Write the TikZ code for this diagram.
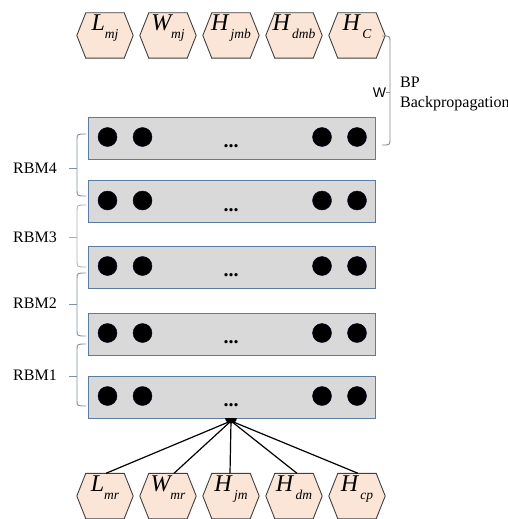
\documentclass[tikz,border=0pt]{standalone}
\usepackage{fontspec}
\setmainfont{Liberation Serif}
\newfontfamily\labelsans{Liberation Sans}
\usetikzlibrary{backgrounds,calc}

\definecolor{hexfill}{HTML}{FBE5D6}
\definecolor{hexedge}{HTML}{404040}
\definecolor{layerfill}{HTML}{D9D9D9}
\definecolor{layeredge}{HTML}{5B7BA5}
\definecolor{bracecol}{HTML}{7F8FA6}
\definecolor{bracelight}{HTML}{B0B0B0}
\definecolor{bracegray}{HTML}{8C8C8C}

% italic variable with a lowered subscript
\newcommand\hexlab[2]{{\fontsize{24pt}{24pt}\selectfont\itshape #1}{\fontsize{13.5pt}{13.5pt}\selectfont\itshape\raisebox{-8pt}{#2}}}

% hexagonal outline around a hexbox node
\newcommand\hexoutline[1]{\path[hexline] ([xshift=9pt]#1.north west) -- ([xshift=-9pt]#1.north east) -- (#1.east) -- ([xshift=-9pt]#1.south east) -- ([xshift=9pt]#1.south west) -- (#1.west) -- cycle;}

% left brace grouping two layers: colour, top, middle, bottom
\newcommand\rbmbrace[4]{%
  \draw[brace,draw=#1] (86,#2) .. controls (77,#2) .. (77,#2+6) -- (77,#4-6) .. controls (77,#4) .. (86,#4);
  \draw[brace,draw=#1] (77,#3) -- (69,#3);}

\begin{document}
\begin{tikzpicture}[x=1pt,y=-1pt,
  hexbox/.style={minimum width=56pt, minimum height=45pt, inner sep=0pt, text height=10pt, text depth=19pt},
  hexline/.style={draw=hexedge, fill=hexfill, line width=0.9pt},
  layer/.style={draw=layeredge, fill=layerfill, line width=1pt, minimum width=287pt, minimum height=42pt, inner sep=0pt},
  unit/.style={circle, fill=black, draw=black!85!blue, minimum size=19pt, inner sep=0pt},
  more/.style={font=\fontsize{20pt}{20pt}\selectfont\bfseries, inner sep=0pt, anchor=base},
  rbm/.style={font=\fontsize{16pt}{16pt}\selectfont, inner sep=0pt},
  brace/.style={line width=0.9pt},
  link/.style={draw=black, line width=1.2pt},
]
\useasboundingbox (0,0) rectangle (508,519);

% output variables
\node[hexbox] (t1) at (105,35.5) {\hexlab{L}{mj}};
\node[hexbox] (t2) at (168,35.5) {\hexlab{W}{mj}};
\node[hexbox] (t3) at (231,35.5) {\hexlab{H}{\,jmb}};
\node[hexbox] (t4) at (294,35.5) {\hexlab{H}{\,dmb}};
\node[hexbox] (t5) at (357,35.5) {\hexlab{H}{\,C}};

% input variables
\node[hexbox] (b1) at (105,496) {\hexlab{L}{mr}};
\node[hexbox] (b2) at (168,496) {\hexlab{W}{mr}};
\node[hexbox] (b3) at (231,496) {\hexlab{H}{\,jm}};
\node[hexbox] (b4) at (294,496) {\hexlab{H}{\,dm}};
\node[hexbox] (b5) at (357,496) {\hexlab{H}{\,cp}};

\begin{pgfonlayer}{background}
  \foreach \n in {t1,t2,t3,t4,t5,b1,b2,b3,b4,b5} {\hexoutline{\n}}
\end{pgfonlayer}

% stacked layers with their units
\foreach \i/\yc in {1/138, 2/201.5, 3/267, 4/334, 5/397} {
  \node[layer] (r\i) at (231.5,\yc) {};
  \foreach \j/\xc in {1/107.5, 2/142.5, 3/322, 4/357}
    \node[unit] (r\i u\j) at (\xc,\yc-1) {};
  \node[more] (r\i m) at (231,\yc+9.5) {...};
}

% connection point under the bottom layer
\coordinate (hub) at (231,421);
\fill[black] (225,418) .. controls (226,425.5) and (236,425.5) .. (237,418) -- cycle;

\draw[link] (hub) -- ([xshift=1pt]b1.north);
\draw[link] (hub) -- ([xshift=6pt]b2.north);
\draw[link] (hub) -- ([xshift=-1pt]b3.north);
\draw[link] (hub) -- ([xshift=3pt]b4.north);
\draw[link] (hub) -- ([xshift=1pt]b5.north);

% RBM groupings
\rbmbrace{bracecol}{134}{168}{196}
\rbmbrace{bracelight}{205}{237}{267}
\rbmbrace{bracecol}{273}{304}{336}
\rbmbrace{bracecol}{344}{376}{406}
\node[rbm] (rbm4) at (35,168.5) {RBM4};
\node[rbm] (rbm3) at (35,237.5) {RBM3};
\node[rbm] (rbm2) at (35,303.5) {RBM2};
\node[rbm] (rbm1) at (35,375.5) {RBM1};

% fine-tuning bracket on the right
\draw[brace,draw=bracegray] (382,36) .. controls (390,36) .. (390,42) -- (390,139) .. controls (390,145) .. (382,145);
\draw[brace,draw=bracegray] (390,92) -- (386,92);
\node[font=\labelsans\fontsize{14pt}{14pt}\selectfont, inner sep=0pt] (w) at (379.5,92.5) {W};
\node[font=\fontsize{16pt}{16pt}\selectfont, inner sep=0pt, anchor=base west] (bp) at (400,88) {BP};
\node[font=\fontsize{16pt}{16pt}\selectfont, inner sep=0pt, anchor=base west] (bpl) at (400,107) {Backpropagation};
\end{tikzpicture}
\end{document}
